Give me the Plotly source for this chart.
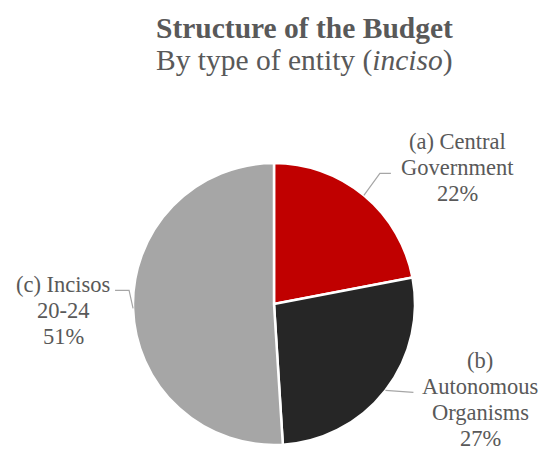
import math
import plotly.graph_objects as go

# ---- data ----
categories = ["(a) Central Government", "(b) Autonomous Organisms", "(c) Incisos 20-24"]
label_lines = [["(a) Central", "Government"], ["(b)", "Autonomous", "Organisms"], ["(c) Incisos", "20-24"]]
values = [22, 27, 51]
colors = ["#C00000", "#262626", "#A6A6A6"]
title_text = "Structure of the Budget"
subtitle_text = "By type of entity (<i>inciso</i>)"

W, H = 543, 450
CX, CY, R = 274, 304, 141  # pie centre / radius in px

fig = go.Figure(go.Pie(
    labels=categories, values=values, sort=False, direction="clockwise", rotation=0,
    marker=dict(colors=colors, line=dict(color="white", width=2.5)),
    textinfo="none", hoverinfo="label+percent", showlegend=False,
    domain=dict(x=[(CX - R) / W, (CX + R) / W], y=[1 - (CY + R) / H, 1 - (CY - R) / H]),
))

def px(x, y):
    return x / W, 1 - y / H

total = sum(values)
cum = 0
mids = []
for v in values:
    mids.append((cum + v / 2) / total * 2 * math.pi)
    cum += v

def edge(theta):
    return CX + R * math.sin(theta), CY - R * math.cos(theta)

# leader line bends (px offsets from the edge point) and label centres
leader_steps = [
    [(16, -22), (11, 0)],
    [(28, 2)],
    [(-4, -18), (-14, 0)],
]
label_offsets = [(94, -28), (95, 9), (-70, 2)]
LINE_H = 26
FONT = "Liberation Serif"
TXT = "#595959"

shapes = []
annotations = []
for i, v in enumerate(values):
    ex, ey = edge(mids[i])
    pts = [(ex, ey)]
    x, y = ex, ey
    for dx, dy in leader_steps[i]:
        x, y = x + dx, y + dy
        pts.append((x, y))
    path = "M " + " L ".join(f"{px(a, b)[0]:.5f},{px(a, b)[1]:.5f}" for a, b in pts)
    shapes.append(dict(type="path", path=path, xref="paper", yref="paper",
                       line=dict(color="#A6A6A6", width=1.2)))
    lx, ly = ex + label_offsets[i][0], ey + label_offsets[i][1]
    pct = round(v / total * 100)
    lines = label_lines[i] + [f"{pct}%"]
    n = len(lines)
    for k, t in enumerate(lines):
        yy = ly + (k - (n - 1) / 2) * LINE_H
        ax, ay = px(lx, yy)
        annotations.append(dict(text=t, x=ax, y=ay, xref="paper", yref="paper",
                                xanchor="center", yanchor="middle", showarrow=False,
                                font=dict(family=FONT, size=22.5, color=TXT)))

annotations.append(dict(text=f"<b>{title_text}</b>", x=304 / W, y=1 - 28 / H,
                        xref="paper", yref="paper", xanchor="center", yanchor="middle",
                        showarrow=False, font=dict(family=FONT, size=29.5, color=TXT)))
annotations.append(dict(text=subtitle_text, x=304 / W, y=1 - 61 / H,
                        xref="paper", yref="paper", xanchor="center", yanchor="middle",
                        showarrow=False, font=dict(family=FONT, size=29.5, color=TXT)))

fig.update_layout(width=W, height=H, margin=dict(l=0, r=0, t=0, b=0),
                  paper_bgcolor="white", plot_bgcolor="white",
                  shapes=shapes, annotations=annotations)
fig.write_html("out.html", config={"displayModeBar": False},
               post_script="document.body.style.margin='0';")
